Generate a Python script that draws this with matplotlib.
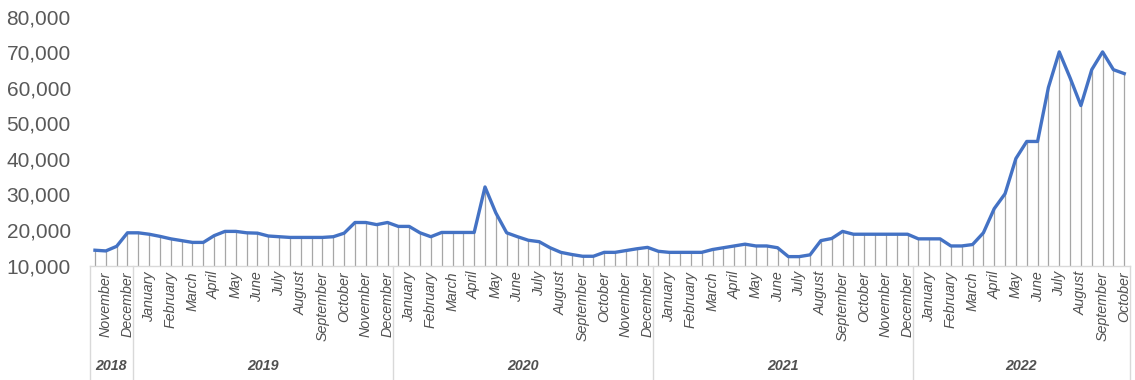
import numpy as np
import matplotlib.pyplot as plt
from matplotlib.transforms import blended_transform_factory

plt.rcParams['font.family'] = ['Liberation Sans', 'DejaVu Sans']

# two readings per month, Nov 2018 - Oct 2022
month_names = ['January', 'February', 'March', 'April', 'May', 'June', 'July',
               'August', 'September', 'October', 'November', 'December']
years = ['2018', '2019', '2020', '2021', '2022']
months_in_year = [2, 12, 12, 12, 10]   # 2018 starts in November, 2022 ends in October
first_month = [11, 1, 1, 1, 1]

values = [14300, 14100, 15400, 19200,
          19200, 18800, 18200, 17500, 17000, 16500, 16500, 18400, 19600, 19600, 19200, 19100,
          18300, 18100, 17900, 17900, 17900, 17900, 18100, 19100, 22100, 22100, 21500, 22100,
          21000, 21000, 19200, 18100, 19300, 19300, 19300, 19300, 32100, 24800, 19200, 18100,
          17100, 16700, 15000, 13700, 13100, 12600, 12600, 13700, 13700, 14200, 14700, 15100,
          14000, 13700, 13700, 13700, 13700, 14500, 15000, 15500, 16000, 15500, 15500, 15000,
          12500, 12500, 13000, 17000, 17600, 19600, 18800, 18800, 18800, 18800, 18800, 18800,
          17500, 17500, 17500, 15500, 15500, 15900, 19200, 26000, 30200, 40100, 44900, 44900,
          60100, 70100, 62800, 55000, 65100, 70100, 65100, 64000]

# category labels: month name for each point
cats = []
for fm, n in zip(first_month, months_in_year):
    for m in range(fm, fm + n):
        cats += [month_names[m - 1]] * 2
x = np.arange(len(values))

fig = plt.figure(figsize=(11.35, 3.8), dpi=100)
ax = fig.add_axes([0.0789, 0.3013, 0.9164, 0.6547])

ax.vlines(x, 10000, values, color='#A6A6A6', lw=0.9, zorder=1)
ax.plot(x, values, color='#4472C4', lw=2.4, solid_joinstyle='round', zorder=2)

ax.set_xlim(-0.5, len(values) - 0.5)
ax.set_ylim(10000, 80000)
ax.set_yticks(range(10000, 80001, 10000))
ax.set_yticklabels([f'{v:,}' for v in range(10000, 80001, 10000)])
ax.tick_params(axis='y', length=0, pad=13.5, labelsize=15, labelcolor='#595959')

# every second category label is shown
ax.set_xticks(x[1::2])
ax.set_xticklabels(cats[1::2], rotation=90, fontstyle='italic', fontsize=10.3,
                   color='#505050')
ax.tick_params(axis='x', length=0, pad=4)

for s in ['left', 'right', 'top']:
    ax.spines[s].set_visible(False)
ax.spines['bottom'].set_color('#D9D9D9')
ax.spines['bottom'].set_linewidth(1)

# year groups under the month labels
trans = blended_transform_factory(ax.transData, ax.transAxes)
edges = np.concatenate([[0], np.cumsum(np.array(months_in_year) * 2)]) - 0.5
for e in edges:
    ax.plot([e, e], [0, -0.455], color='#D9D9D9', lw=1, transform=trans, clip_on=False)
for yr, a, b in zip(years, edges[:-1], edges[1:]):
    ax.text((a + b) / 2, -0.404, yr, transform=trans, ha='center', va='center',
            fontsize=10.3, fontweight='bold', fontstyle='italic', color='#505050')

fig.savefig('out.png', dpi=100)
